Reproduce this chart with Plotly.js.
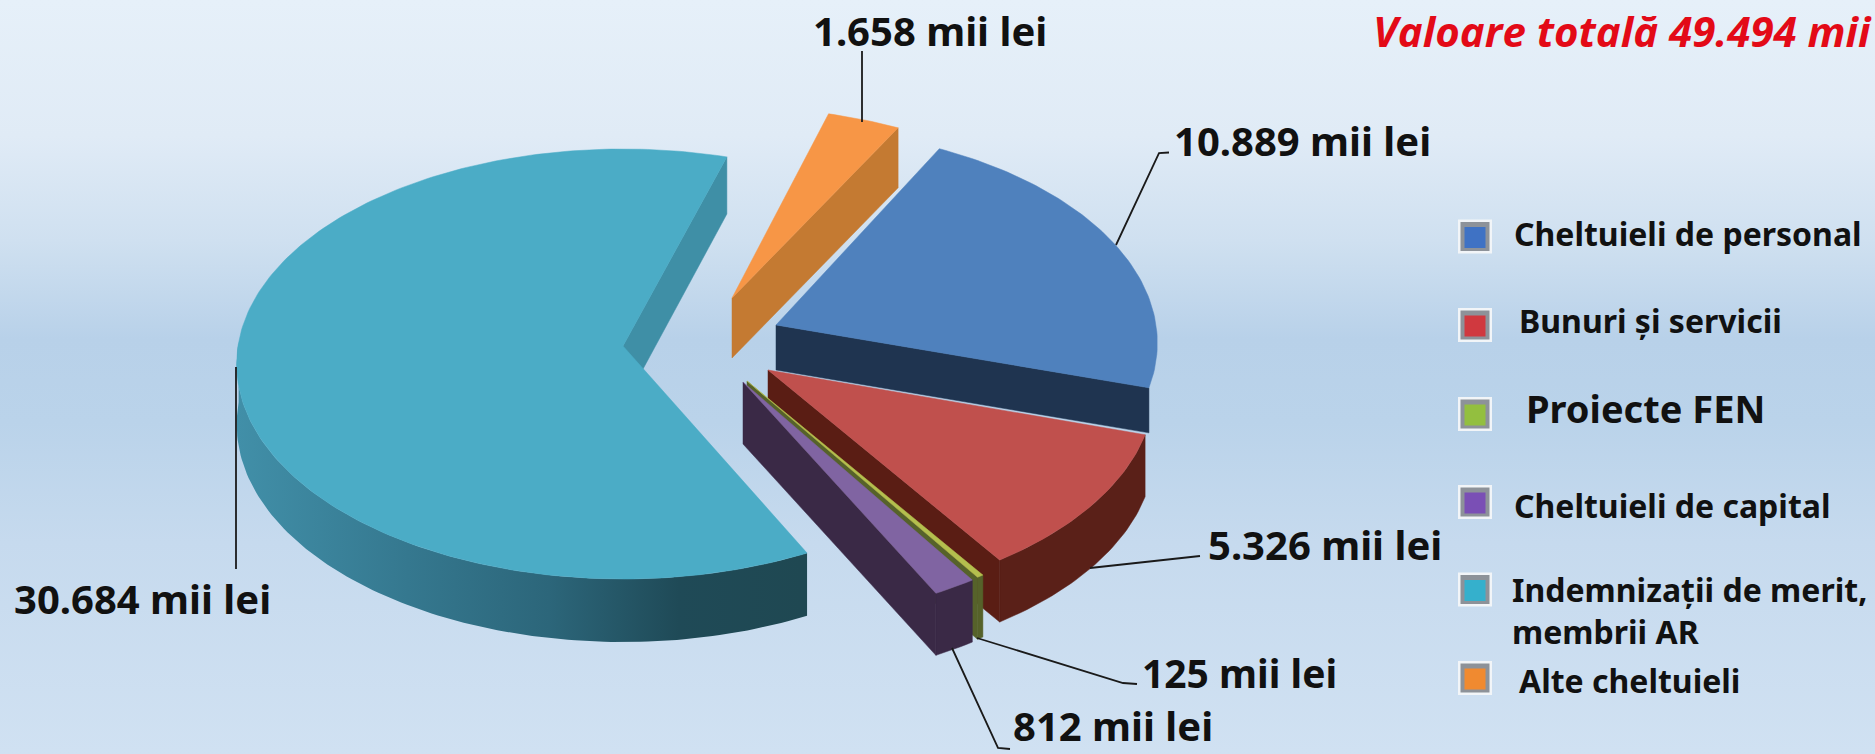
<!DOCTYPE html>
<html><head><meta charset="utf-8">
<script src="https://cdn.plot.ly/plotly-3.0.1.min.js"></script>
<style>
html,body{margin:0;padding:0;width:1875px;height:754px;overflow:hidden;
background:linear-gradient(180deg,#e6f0f9 0%,#e0ebf6 18%,#cfe0f0 32%,#b8d1e9 45%,#bad3ea 56%,#c6daee 72%,#d0e1f2 100%);}
#chart{width:1875px;height:754px;}
</style></head><body><div id="chart"></div>
<script>
// ---- data ----
const categories = ['Cheltuieli de personal','Bunuri și servicii','Proiecte FEN','Cheltuieli de capital','Indemnizații de merit,<br>membrii AR','Alte cheltuieli'];
const values = [10889,5326,125,812,30684,1658];
const unit = 'mii lei';
const titlePrefix = 'Valoare totală';

// ---- styling / layout ----
const topColors  = ['#4f81bd','#c0504d','#b4bf4e','#8064a2','#4bacc6','#f79646'];
const wallColors = ['#1f3450','#5a2018','#56622a','#3a2946','#1f4a56','#c47a32'];
const endWallColors = ['#1f3450','#5a1d14','#56622a','#3a2946','#3f8fa6','#c47a32'];
const swatchColors = ['#3f72c4','#d0393f','#93bf3f','#7a4fb5','#35b0cc','#f08a30'];
const originX = [776,768,747,743,623,732];   // exploded slice apex, px
const originY = [325,370,381,382,346,298];
const radiusX = [380,385,392,390,385,380];
const radiusY = [213.5,213.5,218,220,213.5,207];
const depth   = [45,62,62,62,60,60];
const depthPersp = [0,0,0,0,0.05,0];
const angleNudge = [-0.5,0,0,0,1,0];
const showRim = [false,true,true,true,true,false];
const persp = 0.0837, startAngle = 28;
const drawOrder = [4,5,0,1,2,3];

function project(i,deg){
  const t=(deg+angleNudge[i])*Math.PI/180,u=Math.sin(t),v=-Math.cos(t),s=1/(1-persp*v);
  return {x:originX[i]+radiusX[i]*u*s,y:originY[i]+radiusY[i]*v*s,d:depth[i]*(1+depthPersp[i]*v)};
}
function range(a,b){const n=Math.max(2,Math.ceil(Math.abs(b-a)));const o=[];for(let k=0;k<=n;k++)o.push(a+(b-a)*k/n);return o;}

const total = values.reduce((a,b)=>a+b,0);
const fmt = n=>String(n).replace(/\B(?=(\d{3})+$)/g,'.');
let cum = startAngle;
const spans = values.map(v=>{const s=[cum,cum+v/total*360];cum=s[1];return s;});

const traces=[];
function poly(xs,ys,color,extra){
  traces.push(Object.assign({type:'scatter',mode:'lines',x:xs.concat(xs[0]),y:ys.concat(ys[0]),fill:'toself',fillcolor:color,
    line:{width:0.5,color:color},hoverinfo:'skip',showlegend:false},extra||{}));
}
drawOrder.forEach(i=>{
  const [a,b]=spans[i];
  const ra=Math.max(a,90),rb=Math.min(b,270);
  if(rb>ra && showRim[i]){
    const pts=range(ra,rb).map(d=>project(i,d));
    const xs=pts.map(p=>p.x).concat(pts.map(p=>p.x).reverse());
    const ys=pts.map(p=>p.y).concat(pts.map(p=>p.y+p.d).reverse());
    const extra = i===4?{fillgradient:{type:'horizontal',start:238,stop:803,
      colorscale:[[0,'#418fa8'],[0.3,'#35788f'],[0.55,'#2c667a'],[0.78,'#1f4a57'],[1,'#1f4852']]},line:{width:0}}:{};
    poly(xs,ys,wallColors[i],extra);
  }
  const e=project(i,b);
  poly([originX[i],e.x,e.x,originX[i]],[originY[i],e.y,e.y+e.d,originY[i]+depth[i]],endWallColors[i]);
  const arc=range(a,b).map(d=>project(i,d));
  poly([originX[i]].concat(arc.map(p=>p.x)),[originY[i]].concat(arc.map(p=>p.y)),topColors[i]);
});

// legend swatches
const swatchX=categories.map(()=>1475), swatchY=[236.5,325,414,502,589.5,678];
traces.push({type:'scatter',mode:'markers',x:swatchX,y:swatchY,hoverinfo:'skip',showlegend:false,
  marker:{symbol:'square',size:34,color:'#f2f5f8',line:{width:0}}});
traces.push({type:'scatter',mode:'markers',x:swatchX,y:swatchY,hoverinfo:'skip',showlegend:false,
  marker:{symbol:'square',size:29,color:'#8d9299',line:{width:0}}});
traces.push({type:'scatter',mode:'markers',x:swatchX,y:swatchY.map(y=>y+1),hoverinfo:'skip',showlegend:false,
  marker:{symbol:'square',size:21,color:swatchColors,line:{width:0}}});

// leader lines
const leaders=[
 'M1116,245 L1159,153 L1169,152.5',
 'M1090,568 L1200,556',
 'M977,638 L1123,683 L1137,684',
 'M952,648 L998,748 L1010,749',
 'M236,367 L236,569',
 'M862,51 L862,122'
];
const shapes=leaders.map(p=>({type:'path',path:p,xref:'x',yref:'y',line:{color:'#1a1a1a',width:1.8},layer:'above'}));

const labelPos=[[1172,140],[1206,544],[1140,672],[1011,725],[12,598],[811,30]];
const labelSize=[40,40,39,40,40,40];
const annotations=values.map((v,i)=>({x:labelPos[i][0],y:labelPos[i][1],xref:'x',yref:'y',showarrow:false,xanchor:'left',yanchor:'middle',
  text:'<b>'+fmt(v)+' '+unit+'</b>',font:{family:'Noto Sans, sans-serif',size:labelSize[i],color:'#111111'}}));
const catPos=[[1512,233],[1517,320],[1524,408],[1512,505],[1510,610],[1517,680]];
const catSize=[32,32,38,32,32,32];
categories.forEach((c,i)=>annotations.push({x:catPos[i][0],y:catPos[i][1],xref:'x',yref:'y',showarrow:false,xanchor:'left',yanchor:'middle',align:'left',
  text:'<b>'+c+'</b>',font:{family:'Noto Sans, sans-serif',size:catSize[i],color:'#111111'}}));
annotations.push({x:1371,y:30,xref:'x',yref:'y',showarrow:false,xanchor:'left',yanchor:'middle',
  text:'<b><i>'+titlePrefix+' '+fmt(total)+' mii</i></b>',font:{family:'Open Sans, sans-serif',size:42,color:'#e30a17'}});

Plotly.newPlot('chart',traces,{
  width:1875,height:754,margin:{l:0,r:0,t:0,b:0},paper_bgcolor:'rgba(0,0,0,0)',plot_bgcolor:'rgba(0,0,0,0)',
  xaxis:{range:[0,1875],visible:false,fixedrange:true},
  yaxis:{range:[754,0],visible:false,fixedrange:true},
  shapes,annotations,showlegend:false
},{displayModeBar:false,staticPlot:true});
</script></body></html>
